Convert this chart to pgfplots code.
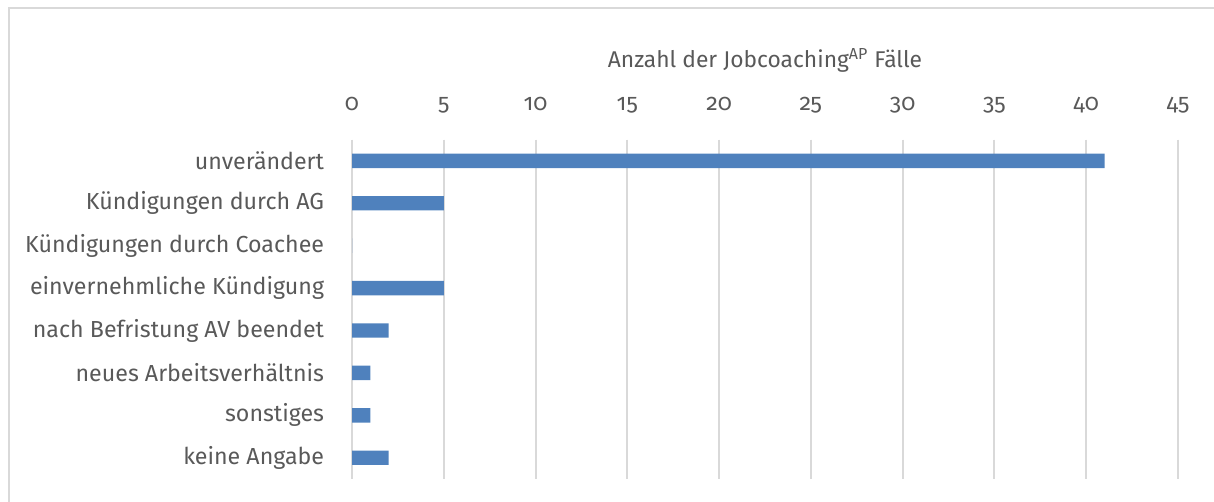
\documentclass[border=0pt]{standalone}
\usepackage{fontspec}
\setmainfont{Fira Sans}[Numbers=OldStyle]
\usepackage{pgfplots}
\pgfplotsset{compat=1.18}
\definecolor{barblue}{HTML}{4F81BD}
\definecolor{gridgray}{HTML}{D9D9D9}
\definecolor{txt}{HTML}{595959}
\begin{document}
\begin{tikzpicture}[x=0.5pt,y=0.5pt]
\useasboundingbox (0,0) rectangle (1214,502);
\draw[gridgray, line width=1pt] (9,-5) -- (9,494) -- (1220,494);
\begin{axis}[at={(176pt,11.5pt)}, anchor=south west, scale only axis,
  width=413pt, height=169.7pt,
  xbar, bar width=7.2pt,
  xmin=0, xmax=45, ymin=-0.5, ymax=7.5, y dir=reverse,
  enlargelimits=false,
  xtick={0,5,...,45}, ytick={0,...,7},
  yticklabels={unverändert,Kündigungen durch AG,Kündigungen durch Coachee,einvernehmliche Kündigung,nach Befristung AV beendet,neues Arbeitsverhältnis,sonstiges,keine Angabe},
  axis line style={draw=none}, tick style={draw=none},
  xmajorgrids, major grid style={gridgray, line width=1pt},
  xticklabel pos=right,
  /pgf/number format/assume math mode=true,
  xticklabel style={anchor=base, yshift=14.5pt},
  yticklabel style={anchor=east, inner sep=0pt, xshift=-9.5pt},
  ticklabel style={font=\fontsize{11.6}{13}\selectfont, text=txt},
  title={Anzahl der Jobcoaching\textsuperscript{AP} Fälle},
  title style={at={(0.5,1)}, anchor=base, yshift=30pt, font=\fontsize{11.4}{13}\selectfont, text=txt},
]
\addplot[fill=barblue, draw=none] coordinates {(41,0) (5,1) (0,2) (5,3) (2,4) (1,5) (1,6) (2,7)};
\end{axis}
\end{tikzpicture}
\end{document}
